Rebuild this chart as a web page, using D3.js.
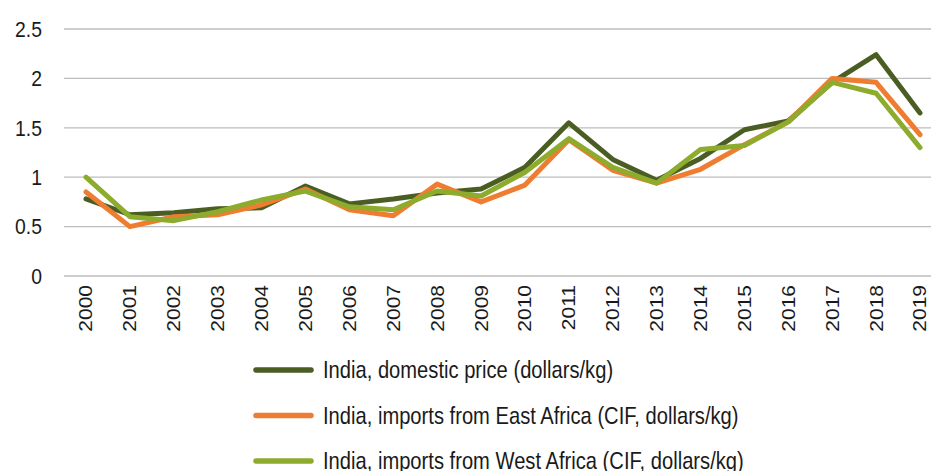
<!DOCTYPE html>
<html>
  <head>
    <script src="https://d3js.org/d3.v7.min.js"></script>
    <style>
      body { margin: 0; background: #fff; }
      text { font-family: "Liberation Sans", Arial, sans-serif; fill: #1a1a1a; }
    </style>
  </head>
  <body>
  <script>
  var width = 931, height = 471;

  var years = ['2000','2001','2002','2003','2004','2005','2006','2007','2008','2009',
               '2010','2011','2012','2013','2014','2015','2016','2017','2018','2019'];
  var domestic = [0.78,0.62,0.64,0.68,0.69,0.91,0.73,0.78,0.84,0.88,1.10,1.55,1.18,0.97,1.19,1.48,1.57,1.96,2.24,1.65];
  var eastAfrica = [0.85,0.50,0.60,0.62,0.72,0.88,0.67,0.61,0.93,0.75,0.92,1.38,1.07,0.94,1.08,1.33,1.56,2.00,1.96,1.43];
  var westAfrica = [1.00,0.60,0.56,0.65,0.77,0.86,0.70,0.67,0.86,0.81,1.05,1.39,1.10,0.94,1.28,1.32,1.56,1.96,1.85,1.30];
  var yTicks = [0, 0.5, 1, 1.5, 2, 2.5];

  var series = [
    {name: 'India, domestic price (dollars/kg)', values: domestic, color: '#4a5e23'},
    {name: 'India, imports from East Africa (CIF, dollars/kg)', values: eastAfrica, color: '#ee7d31'},
    {name: 'India, imports from West Africa (CIF, dollars/kg)', values: westAfrica, color: '#8dab2c'}
  ];

  var svg = d3.select('body').append('svg')
      .attr('width', width)
      .attr('height', height);

  var x = d3.scalePoint().domain(years).range([86, 920]);
  var y = d3.scaleLinear().domain([0, 2.5]).range([276, 29]);

  // gridlines
  svg.selectAll('.grid')
      .data(yTicks)
    .enter().append('line')
      .attr('class', 'grid')
      .attr('x1', 64).attr('x2', width)
      .attr('y1', function(d) { return y(d); })
      .attr('y2', function(d) { return y(d); })
      .attr('stroke', '#bdbdbd')
      .attr('stroke-width', 1.3);

  // y labels (narrow look via horizontal squeeze)
  svg.selectAll('.ylab')
      .data(yTicks)
    .enter().append('text')
      .attr('class', 'ylab')
      .attr('transform', function(d) { return 'translate(42,' + y(d) + ') scale(0.88,1)'; })
      .attr('dy', '0.35em')
      .attr('text-anchor', 'end')
      .style('font-size', '22px')
      .text(function(d) { return d; });

  // x labels rotated
  svg.selectAll('.xlab')
      .data(years)
    .enter().append('text')
      .attr('class', 'xlab')
      .attr('transform', function(d) { return 'translate(' + x(d) + ',285) rotate(-90) scale(1,0.88)'; })
      .attr('dy', '0.35em')
      .attr('text-anchor', 'end')
      .style('font-size', '21px')
      .text(function(d) { return d; });

  var line = d3.line()
      .x(function(d, i) { return x(years[i]); })
      .y(function(d) { return y(d); });

  svg.selectAll('.series')
      .data(series)
    .enter().append('path')
      .attr('class', 'series')
      .attr('d', function(d) { return line(d.values); })
      .attr('fill', 'none')
      .attr('stroke', function(d) { return d.color; })
      .attr('stroke-width', 5)
      .attr('stroke-linejoin', 'round')
      .attr('stroke-linecap', 'round');

  // legend
  var legend = svg.selectAll('.legend')
      .data(series)
    .enter().append('g')
      .attr('class', 'legend')
      .attr('transform', function(d, i) { return 'translate(0,' + (370 + i * 45.5) + ')'; });
  legend.append('line')
      .attr('x1', 256).attr('x2', 311)
      .attr('stroke', function(d) { return d.color; })
      .attr('stroke-width', 5.5)
      .attr('stroke-linecap', 'round');
  legend.append('text')
      .attr('transform', 'translate(323,0) scale(0.84,1)')
      .attr('dy', '0.35em')
      .style('font-size', '24px')
      .text(function(d) { return d.name; });
  </script>
  </body>
</html>
